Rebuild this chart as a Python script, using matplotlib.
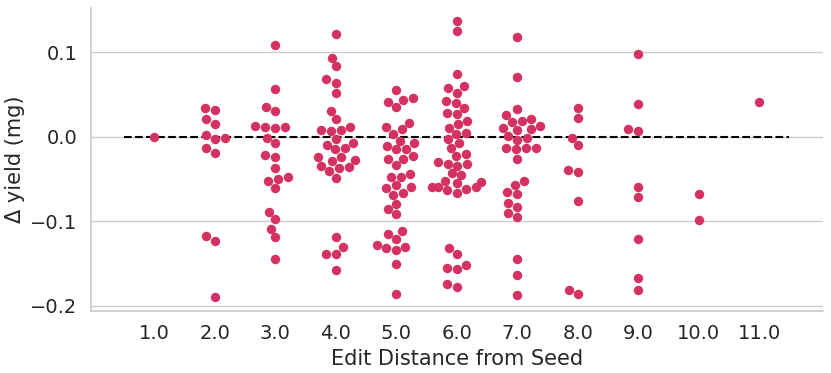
import matplotlib
matplotlib.use("Agg")
import matplotlib.pyplot as plt
import numpy as np
import pandas as pd
import seaborn as sns

# Edit distance categories and Δ yield values
categories = ["1.0", "2.0", "3.0", "4.0", "5.0", "6.0", "7.0", "8.0", "9.0", "10.0", "11.0"]

d1 = [0.0]
d2 = [0.0343, 0.0312, 0.0213, 0.0154, 0.0024, -0.0020, -0.0028, -0.0130, -0.0189,
      -0.117, -0.123, -0.190]
d3 = [0.1085, 0.0565, 0.0355, 0.0304, 0.0127, 0.0111, 0.0103, 0.0118, -0.0012, -0.0075,
      -0.0213, -0.0240, -0.0367, -0.0477, -0.0497, -0.0524, -0.0604, -0.0888, -0.0978,
      -0.1089, -0.119, -0.1444]
d4 = [0.1212, 0.0935, 0.0833, 0.0679, 0.0636, 0.0517, 0.0308, 0.0210, 0.0083, 0.0076,
      0.0070, 0.0115, -0.0027, -0.0095, -0.0149, -0.0137, -0.0075, -0.0244, -0.0291,
      -0.0276, -0.0237, -0.0343, -0.0402, -0.0367, -0.0360, -0.0489, -0.1187, -0.1309,
      -0.1385, -0.1388, -0.1578]
d5 = [0.0556, 0.0458, 0.0431, 0.0411, 0.0351, 0.0166, 0.0115, 0.0088, 0.0032, -0.0047,
      -0.0071, -0.0114, -0.0142, -0.0150, -0.0228, -0.0260, -0.0268, -0.0338, -0.0438,
      -0.0473, -0.0480, -0.0572, -0.0599, -0.0607, -0.0663, -0.0686, -0.0793, -0.0859,
      -0.0915, -0.1116, -0.1148, -0.1207, -0.1282, -0.1302, -0.1321, -0.1341, -0.1503,
      -0.1858]
d6 = [0.1366, 0.1251, 0.0746, 0.0596, 0.0573, 0.0521, 0.0426, 0.0395, 0.0343, 0.0284,
      0.0272, 0.0189, 0.0150, 0.0107, 0.0044, 0.0036, -0.0031, -0.0071, -0.0137, -0.0208,
      -0.0232, -0.0296, -0.0320, -0.0323, -0.0343, -0.0433, -0.0450, -0.0521, -0.0540,
      -0.0551, -0.0592, -0.0595, -0.0600, -0.0631, -0.0625, -0.0663, -0.1321, -0.1392,
      -0.1518, -0.1550, -0.1566, -0.1747, -0.1782]
d7 = [0.1176, 0.0710, 0.0324, 0.0260, 0.0209, 0.0186, 0.0174, 0.0127, 0.0107, 0.0088,
      0.0079, 0.0008, -0.0015, -0.0036, -0.0130, -0.0134, -0.0137, -0.0149, -0.0260,
      -0.0524, -0.0572, -0.0658, -0.0682, -0.0788, -0.0835, -0.0903, -0.0950, -0.1451,
      -0.1637, -0.1873]
d8 = [0.0343, 0.0221, -0.0012, -0.0102, -0.0394, -0.0414, -0.0765, -0.1808, -0.1858]
d9 = [0.0975, 0.0383, 0.0095, 0.0071, -0.0595, -0.0710, -0.1207, -0.1669, -0.1818]
d10 = [-0.0682, -0.0982]
d11 = [0.0414]

groups = [d1, d2, d3, d4, d5, d6, d7, d8, d9, d10, d11]
df = pd.DataFrame({
    "dist": np.repeat(categories, [len(g) for g in groups]),
    "dyield": np.concatenate(groups),
})

sns.set_theme(style="whitegrid")
plt.rcParams["font.family"] = ["DejaVu Sans"]

fig = plt.figure(figsize=(8.31, 3.73), dpi=100)
ax = fig.add_axes([0.109, 0.166, 0.881, 0.813])

sns.swarmplot(data=df, x="dist", y="dyield", order=categories, color="#D43263",
              size=6.8, ax=ax, zorder=3)
# dashed zero line sits under the dots
ax.hlines(0, -0.5, len(categories) - 0.5, colors="black", linestyles="--",
          linewidth=1.5, zorder=2)

ax.set_ylim(-0.2063, 0.1523)
ax.set_yticks([-0.2, -0.1, 0.0, 0.1])
ax.set_yticklabels(["\u22120.2", "\u22120.1", "0.0", "0.1"])
ax.set_xlabel("Edit Distance from Seed", fontsize=15)
ax.set_ylabel("\u0394 yield (mg)", fontsize=15)
ax.tick_params(labelsize=14)
sns.despine(ax=ax)

fig.savefig("out.png", dpi=100)
